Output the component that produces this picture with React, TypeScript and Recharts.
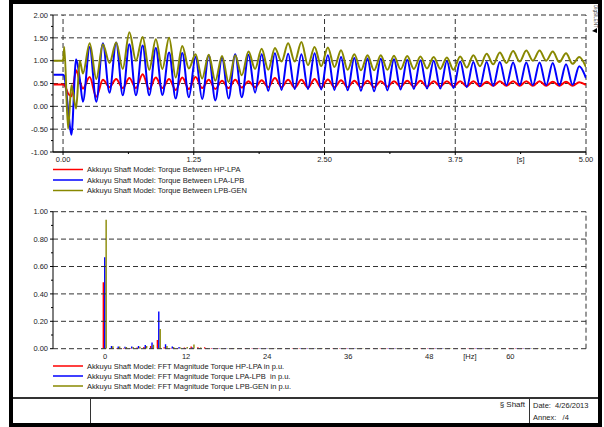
import React from 'react';
import { LineChart, Line, BarChart, Bar, XAxis, YAxis, ReferenceLine } from 'recharts';

const FONT = '"Liberation Sans", Arial, sans-serif';
const RED = '#ff0000';
const BLUE = '#0000ff';
const OLIVE = '#888800';
const GRID = '#333333';

// --- shaft torques (time domain), peaks and troughs ---
const time = [
  -0.09, 0.0, 0.012, 0.048, 0.08, 0.125, 0.16, 0.19, 0.255, 0.318,
  0.381, 0.444, 0.508, 0.571, 0.634, 0.697, 0.761, 0.824, 0.887, 0.95,
  1.014, 1.077, 1.14, 1.203, 1.267, 1.33, 1.393, 1.456, 1.52, 1.583,
  1.646, 1.709, 1.773, 1.836, 1.899, 1.962, 2.026, 2.089, 2.152, 2.215,
  2.279, 2.342, 2.405, 2.468, 2.532, 2.595, 2.658, 2.721, 2.785, 2.848,
  2.911, 2.974, 3.038, 3.101, 3.164, 3.227, 3.291, 3.354, 3.417, 3.48,
  3.544, 3.607, 3.67, 3.733, 3.797, 3.86, 3.923, 3.986, 4.05, 4.113,
  4.176, 4.239, 4.303, 4.366, 4.429, 4.492, 4.556, 4.619, 4.682, 4.745,
  4.809, 4.872, 4.935, 5.0,
];
const torqueHpLpa = [
  0.48, 0.48, 0.47, 0.28, 0.22, 0.79, 0.55, 0.39, 0.64, 0.21,
  0.58, 0.42, 0.60, 0.40, 0.62, 0.40, 0.70, 0.38, 0.63, 0.40,
  0.60, 0.36, 0.63, 0.38, 0.64, 0.40, 0.58, 0.38, 0.56, 0.40,
  0.58, 0.41, 0.55, 0.42, 0.57, 0.42, 0.62, 0.42, 0.58, 0.41,
  0.58, 0.41, 0.60, 0.41, 0.59, 0.42, 0.57, 0.42, 0.56, 0.42,
  0.56, 0.42, 0.55, 0.43, 0.55, 0.43, 0.56, 0.43, 0.56, 0.43,
  0.55, 0.44, 0.55, 0.44, 0.55, 0.44, 0.55, 0.44, 0.54, 0.45,
  0.55, 0.45, 0.55, 0.45, 0.55, 0.45, 0.55, 0.45, 0.54, 0.45,
  0.54, 0.45, 0.53, 0.47,
];
const torqueLpaLpb = [
  0.69, 0.69, 0.66, -0.05, -0.62, 1.03, 0.60, 0.10, 1.30, 0.10,
  1.38, 0.30, 1.40, 0.24, 1.36, 0.24, 1.33, 0.24, 1.28, 0.25,
  1.18, 0.17, 1.17, 0.20, 1.08, 0.16, 1.12, 0.13, 1.07, 0.17,
  1.14, 0.20, 1.13, 0.30, 1.14, 0.34, 1.16, 0.36, 1.15, 0.38,
  1.14, 0.38, 1.16, 0.37, 1.12, 0.36, 1.08, 0.35, 1.06, 0.34,
  1.05, 0.33, 1.04, 0.35, 1.03, 0.37, 1.02, 0.38, 1.01, 0.39,
  1.00, 0.39, 0.99, 0.40, 0.98, 0.42, 0.97, 0.44, 0.97, 0.45,
  0.97, 0.46, 0.96, 0.46, 0.96, 0.46, 0.96, 0.46, 0.95, 0.46,
  0.92, 0.47, 0.88, 0.62,
];
const torqueLpbGen = [
  1.00, 1.00, 1.30, -0.49, 0.46, -0.05, 1.00, 0.72, 1.38, 0.60,
  1.36, 0.95, 1.40, 0.82, 1.62, 1.00, 1.52, 0.80, 1.47, 0.82,
  1.50, 0.63, 1.32, 0.83, 1.14, 0.61, 1.13, 0.56, 1.10, 0.53,
  1.12, 0.68, 1.20, 0.82, 1.26, 0.80, 1.28, 0.98, 1.38, 0.98,
  1.41, 0.90, 1.30, 0.88, 1.29, 0.86, 1.23, 0.80, 1.14, 0.79,
  1.12, 0.79, 1.12, 0.80, 1.11, 0.81, 1.10, 0.82, 1.09, 0.83,
  1.08, 0.82, 1.07, 0.80, 1.09, 0.85, 1.12, 0.88, 1.15, 0.92,
  1.18, 0.95, 1.21, 0.98, 1.22, 1.00, 1.22, 1.00, 1.20, 0.97,
  1.16, 0.93, 1.08, 0.86,
];

const timeTicks = [0, 0.625, 1.25, 1.875, 2.5, 3.125, 3.75, 4.375, 5];
const timeMajor = [0, 1.25, 2.5, 3.75, 5];
const timeUnitTick = 4.375;
const torqueTicks = [-1, -0.75, -0.5, -0.25, 0, 0.25, 0.5, 0.75, 1, 1.25, 1.5, 1.75, 2];
const torqueMajor = [-1, -0.5, 0, 0.5, 1, 1.5, 2];

// --- FFT magnitudes ---
const freq = [
  0, 1, 2, 3, 4, 5, 6, 7, 8, 9, 10, 11, 12, 13, 14, 15, 16, 17, 18, 19,
  20, 21, 22, 23, 24, 25, 26, 27, 28, 29, 30, 31, 32, 33, 34, 35, 36, 37, 38, 39,
  40, 41, 42, 43, 44, 45, 46, 47, 48, 49, 50, 51, 52, 53, 54, 55, 56, 57, 58, 59,
  60, 61, 62, 63, 64,
];
const fftHpLpa = [
  0.485, 0.006, 0.005, 0.005, 0.006, 0.008, 0.012, 0.020, 0.063, 0.010,
  0.006, 0.005, 0.008, 0.016, 0.010, 0.010, 0.005, 0.004, 0.004, 0.003,
  0.003, 0.003, 0.003, 0.003, 0.003, 0.003, 0.003, 0.003, 0.003, 0.003,
  0.003, 0.003, 0.003, 0.003, 0.003, 0.003, 0.003, 0.003, 0.003, 0.003,
  0.003, 0.003, 0.003, 0.003, 0.003, 0.003, 0.003, 0.003, 0.003, 0.003,
  0.003, 0.003, 0.003, 0.003, 0.003, 0.003, 0.003, 0.003, 0.003, 0.003,
  0.003, 0.003, 0.003, 0.003, 0.003,
];
const fftLpaLpb = [
  0.667, 0.020, 0.016, 0.015, 0.016, 0.020, 0.027, 0.046, 0.272, 0.032,
  0.016, 0.012, 0.006, 0.008, 0.005, 0.004, 0.004, 0.003, 0.003, 0.003,
  0.003, 0.003, 0.003, 0.003, 0.003, 0.003, 0.003, 0.003, 0.003, 0.003,
  0.003, 0.003, 0.003, 0.003, 0.003, 0.003, 0.003, 0.003, 0.003, 0.003,
  0.003, 0.003, 0.003, 0.003, 0.003, 0.003, 0.003, 0.003, 0.003, 0.003,
  0.003, 0.003, 0.003, 0.003, 0.003, 0.003, 0.003, 0.003, 0.003, 0.003,
  0.003, 0.003, 0.003, 0.003, 0.003,
];
const fftLpbGen = [
  0.942, 0.018, 0.016, 0.012, 0.012, 0.015, 0.020, 0.028, 0.144, 0.020,
  0.012, 0.008, 0.012, 0.030, 0.008, 0.006, 0.004, 0.003, 0.003, 0.003,
  0.003, 0.003, 0.003, 0.003, 0.003, 0.003, 0.003, 0.003, 0.003, 0.003,
  0.003, 0.003, 0.003, 0.003, 0.003, 0.003, 0.003, 0.003, 0.003, 0.003,
  0.003, 0.003, 0.003, 0.003, 0.003, 0.003, 0.003, 0.003, 0.003, 0.003,
  0.003, 0.003, 0.003, 0.003, 0.003, 0.003, 0.003, 0.003, 0.003, 0.003,
  0.003, 0.003, 0.003, 0.003, 0.003,
];

const freqTicks = [0, 12, 24, 36, 48, 54, 60];
const freqMajor = [0, 12, 24, 36, 48, 60];
const freqUnitTick = 54;
const magTicks = [0, 0.1, 0.2, 0.3, 0.4, 0.5, 0.6, 0.7, 0.8, 0.9, 1];
const magMajor = [0, 0.2, 0.4, 0.6, 0.8, 1];

const torqueLegend = [
  { color: RED, label: 'Akkuyu Shaft Model: Torque Between HP-LPA' },
  { color: BLUE, label: 'Akkuyu Shaft Model: Torque Between LPA-LPB' },
  { color: OLIVE, label: 'Akkuyu Shaft Model: Torque Between LPB-GEN' },
];
const fftLegend = [
  { color: RED, label: 'Akkuyu Shaft Model: FFT Magnitude Torque HP-LPA in p.u.' },
  { color: BLUE, label: 'Akkuyu Shaft Model: FFT Magnitude Torque LPA-LPB  in p.u.' },
  { color: OLIVE, label: 'Akkuyu Shaft Model: FFT Magnitude Torque LPB-GEN in p.u.' },
];

const torqueData = time.map((t, i) => ({
  t,
  hp: torqueHpLpa[i],
  lpa: torqueLpaLpb[i],
  gen: torqueLpbGen[i],
}));
const fftData = freq.map((f, i) => ({
  f,
  hp: fftHpLpa[i],
  lpa: fftLpaLpb[i],
  gen: fftLpbGen[i],
}));

const isIn = (list: number[], v: number) => list.some(m => Math.abs(m - v) < 1e-6);

const makeYTick = (major: number[]) => (props: any) => {
  const { x, y, payload } = props;
  const big = isIn(major, payload.value);
  return (
    <g>
      <line x1={x - (big ? 3 : 2)} x2={x} y1={y} y2={y} stroke="#000" strokeWidth={1} />
      {big && (
        <text x={x - 5} y={y + 2.7} textAnchor="end" fontSize={7.5} fontFamily={FONT} fill="#222">
          {payload.value.toFixed(2)}
        </text>
      )}
    </g>
  );
};

const makeXTick = (major: number[], unitAt: number, unit: string, digits: number, marks: boolean) => (props: any) => {
  const { x, y, payload } = props;
  const v = payload.value;
  const big = isIn(major, v);
  const label = Math.abs(v - unitAt) < 1e-6 ? unit : big ? v.toFixed(digits) : '';
  return (
    <g>
      {marks && <line x1={x} x2={x} y1={y} y2={y + (big ? 3 : 2)} stroke="#000" strokeWidth={1} />}
      {label && (
        <text x={x} y={y + 10} textAnchor="middle" fontSize={7.5} fontFamily={FONT} fill="#222">
          {label}
        </text>
      )}
    </g>
  );
};

function LegendRows({ rows, tops }: { rows: { color: string; label: string }[]; tops: number[] }) {
  return (
    <svg style={{ position: 'absolute', left: 0, top: 0 }} width={604} height={427}>
      {rows.map((r, i) => (
        <g key={r.label}>
          <line x1={53} x2={83} y1={tops[i]} y2={tops[i]} stroke={r.color} strokeWidth={1.5} />
          <text x={87} y={tops[i] + 2.7} fontSize={7.5} fontFamily={FONT} fill="#222" style={{ whiteSpace: 'pre' }}>
            {r.label}
          </text>
        </g>
      ))}
    </svg>
  );
}

export default function App() {
  const dash = '5 3';
  return (
    <div style={{ position: 'absolute', left: 0, top: 0, width: 604, height: 427, background: '#fff', overflow: 'hidden' }}>
      {/* outer frame */}
      <div style={{ position: 'absolute', left: 9, top: 0, width: 593, height: 427, border: '4px solid #000', boxSizing: 'border-box' }} />

      <LegendRows rows={torqueLegend} tops={[169.5, 180, 190.5]} />
      <LegendRows rows={fftLegend} tops={[366, 376, 386]} />

      <div style={{ position: 'absolute', left: 0, top: 0 }}>
        <LineChart width={604} height={170} data={torqueData} margin={{ top: 15, right: 18, left: 0, bottom: 6 }}>
          <XAxis
            dataKey="t"
            type="number"
            domain={[-0.096, 5]}
            ticks={timeTicks}
            interval={0}
            allowDataOverflow
            height={12}
            tickSize={0}
            tickMargin={0}
            tickLine={false}
            axisLine={{ stroke: '#000', strokeWidth: 1.5 }}
            tick={makeXTick(timeMajor, timeUnitTick, '[s]', 2, true)}
          />
          <YAxis
            type="number"
            domain={[-1, 2]}
            ticks={torqueTicks}
            interval={0}
            allowDataOverflow
            width={53}
            tickSize={0}
            tickMargin={0}
            tickLine={false}
            axisLine={{ stroke: '#000', strokeWidth: 1 }}
            tick={makeYTick(torqueMajor)}
          />
          {torqueMajor.filter(v => v > -1).map(v => (
            <ReferenceLine key={'h' + v} y={v} stroke={GRID} strokeDasharray={dash} />
          ))}
          {timeMajor.map(v => (
            <ReferenceLine key={'v' + v} x={v} stroke={GRID} strokeDasharray={dash} />
          ))}
          <Line type="monotone" dataKey="hp" stroke={RED} strokeWidth={2} dot={false} isAnimationActive={false} />
          <Line type="monotone" dataKey="lpa" stroke={BLUE} strokeWidth={2} dot={false} isAnimationActive={false} />
          <Line type="monotone" dataKey="gen" stroke={OLIVE} strokeWidth={2} dot={false} isAnimationActive={false} />
        </LineChart>
      </div>

      <div style={{ position: 'absolute', left: 0, top: 200 }}>
        <BarChart width={604} height={170} data={fftData} margin={{ top: 11.7, right: 18, left: 0, bottom: 9.3 }} barGap={0} barSize={1.4}>
          <XAxis
            dataKey="f"
            type="number"
            domain={[-7.7, 71.2]}
            ticks={freqTicks}
            interval={0}
            allowDataOverflow
            height={12}
            tickSize={0}
            tickMargin={0}
            tickLine={false}
            axisLine={false}
            tick={makeXTick(freqMajor, freqUnitTick, '[Hz]', 0, false)}
          />
          <YAxis
            type="number"
            domain={[0, 1]}
            ticks={magTicks}
            interval={0}
            allowDataOverflow
            width={53}
            tickSize={0}
            tickMargin={0}
            tickLine={false}
            axisLine={{ stroke: '#000', strokeWidth: 1 }}
            tick={makeYTick(magMajor)}
          />
          {magMajor.map(v => (
            <ReferenceLine key={'h' + v} y={v} stroke={GRID} strokeDasharray={dash} />
          ))}
          <ReferenceLine x={71.2} stroke={GRID} strokeDasharray={dash} />
          <Bar dataKey="hp" fill={RED} isAnimationActive={false} />
          <Bar dataKey="lpa" fill={BLUE} isAnimationActive={false} />
          <Bar dataKey="gen" fill={OLIVE} isAnimationActive={false} />
        </BarChart>
      </div>

      {/* title block */}
      <div style={{ position: 'absolute', left: 13, top: 397, width: 585, height: 1.5, background: '#333' }} />
      <div style={{ position: 'absolute', left: 90, top: 397, width: 1, height: 26, background: '#333' }} />
      <div style={{ position: 'absolute', left: 529, top: 397, width: 1, height: 26, background: '#333' }} />
      <div style={{ position: 'absolute', left: 400, width: 125, top: 400, textAlign: 'right', fontSize: 8, fontFamily: FONT, color: '#222' }}>
        § Shaft
      </div>
      <div style={{ position: 'absolute', left: 533, top: 401, fontSize: 7.5, fontFamily: FONT, color: '#222', whiteSpace: 'pre' }}>
        Date:  4/26/2013
      </div>
      <div style={{ position: 'absolute', left: 533, top: 413, fontSize: 7.5, fontFamily: FONT, color: '#222', whiteSpace: 'pre' }}>
        Annex:   /4
      </div>

      {/* vendor mark */}
      <svg style={{ position: 'absolute', left: 591, top: 4 }} width={8} height={30}>
        <text transform="translate(2.5 1) rotate(90)" fontSize={4.5} fontFamily={FONT} fill="#222">DIgSILENT</text>
        <path d="M1 27 L6 24 L6 29 Z" fill="#000" />
      </svg>
    </div>
  );
}
